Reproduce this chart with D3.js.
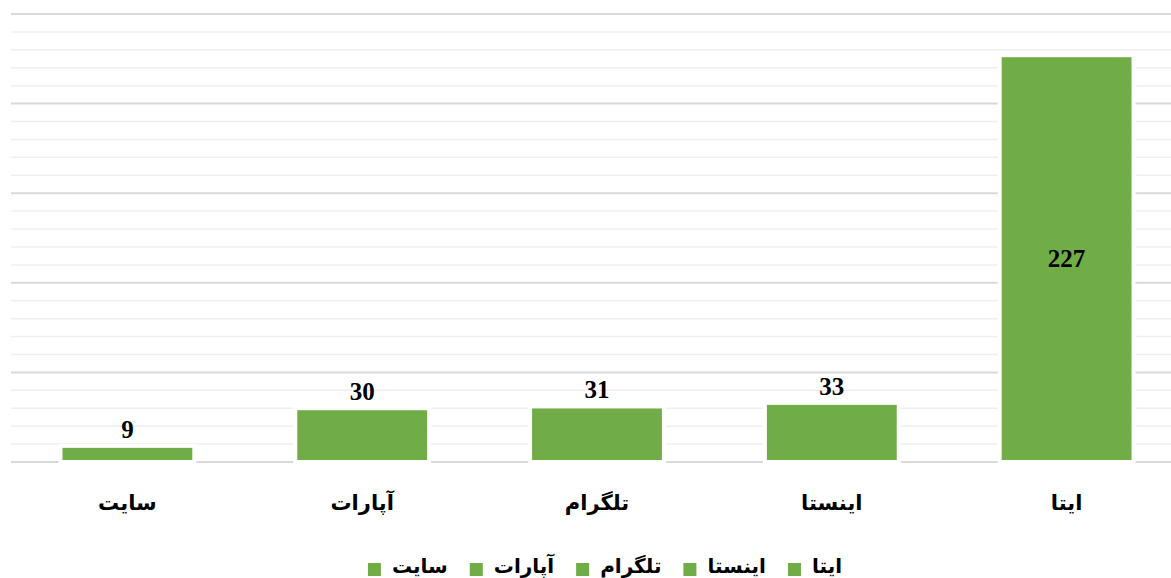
<!DOCTYPE html>
<html>
<head>
<meta charset="utf-8">
<script src="https://cdn.jsdelivr.net/npm/d3@7"></script>
<style>
  html, body { margin: 0; padding: 0; background: #fff; overflow: hidden; }
  svg { display: block; }
</style>
</head>
<body>
<div id="chart"></div>
<script>
// Platform counts (right to left as in the original)
const categories = ["ایتا", "اینستا", "تلگرام", "آپارات", "سایت"];
const values = [227, 33, 31, 30, 9];
const yMax = 250;
const majorStep = 50;
const minorStep = 10;

const W = 1171, H = 578;
const plot = { left: 10, right: 1184, top: 14, bottom: 462 };
const barColor = "#70ad47";

const svg = d3.select("#chart")
    .append("svg")
    .attr("width", W)
    .attr("height", H);

// x runs left to right, so reverse the category order
const x = d3.scaleBand()
    .domain(categories.slice().reverse())
    .range([plot.left, plot.right])
    .paddingInner(0.43)
    .paddingOuter(0.215);

const y = d3.scaleLinear()
    .domain([0, yMax])
    .range([plot.bottom, plot.top]);

// minor gridlines
svg.append("g")
    .selectAll("line")
    .data(d3.range(0, yMax + 1, minorStep).filter(v => v % majorStep !== 0))
    .join("line")
    .attr("x1", plot.left + 1).attr("x2", W)
    .attr("y1", d => y(d)).attr("y2", d => y(d))
    .attr("stroke", "#efefef")
    .attr("stroke-width", 1.5);

// major gridlines
svg.append("g")
    .selectAll("line")
    .data(d3.range(0, yMax + 1, majorStep))
    .join("line")
    .attr("x1", plot.left + 1).attr("x2", W)
    .attr("y1", d => y(d)).attr("y2", d => y(d))
    .attr("stroke", "#d9d9d9")
    .attr("stroke-width", 2);

const data = categories.map((c, i) => ({ name: c, value: values[i] }));

// bars with white outline that cuts the gridlines
svg.append("g")
    .selectAll("rect")
    .data(data)
    .join("rect")
    .attr("x", d => x(d.name))
    .attr("y", d => y(d.value))
    .attr("width", x.bandwidth())
    .attr("height", d => y(0) - y(d.value))
    .attr("fill", barColor)
    .attr("stroke", "#fff")
    .attr("stroke-width", 4);

// value labels: centered inside tall bars, above short ones
const tall = d => (y(0) - y(d.value)) > 100;
svg.append("g")
    .selectAll("text")
    .data(data)
    .join("text")
    .attr("x", d => x(d.name) + x.bandwidth() / 2)
    .attr("y", d => tall(d) ? (y(d.value) + y(0)) / 2 : y(d.value) - 8)
    .attr("dy", d => tall(d) ? "0.35em" : "0")
    .attr("text-anchor", "middle")
    .attr("font-family", "'Liberation Serif', 'DejaVu Serif', serif")
    .attr("font-weight", "bold")
    .attr("font-size", "25px")
    .attr("fill", "#000")
    .text(d => d.value);

// category labels
svg.append("g")
    .selectAll("text")
    .data(categories)
    .join("text")
    .attr("x", d => x(d) + x.bandwidth() / 2)
    .attr("y", 510)
    .attr("text-anchor", "middle")
    .attr("font-family", "'DejaVu Sans', sans-serif")
    .attr("font-weight", "bold")
    .attr("font-size", "21px")
    .attr("fill", "#000")
    .text(d => d);

// legend, laid out right to left, first category on the right
const legend = svg.append("g");
const items = legend.selectAll("g")
    .data(categories)
    .join("g");

items.append("rect")
    .attr("width", 13)
    .attr("height", 13)
    .attr("fill", barColor);

items.append("text")
    .attr("x", 24)
    .attr("y", 10)
    .attr("text-anchor", "start")
    .attr("font-family", "'DejaVu Sans', sans-serif")
    .attr("font-weight", "bold")
    .attr("font-size", "20px")
    .attr("fill", "#000")
    .text(d => d);

const widths = [];
items.each(function() {
    widths.push(24 + d3.select(this).select("text").node().getComputedTextLength());
});
const gap = 22;
const total = d3.sum(widths) + gap * (widths.length - 1);
let right = 842;
items.attr("transform", (d, i) => {
    const left = right - widths[i];
    right = left - gap;
    return `translate(${left},563)`;
});
</script>
</body>
</html>
